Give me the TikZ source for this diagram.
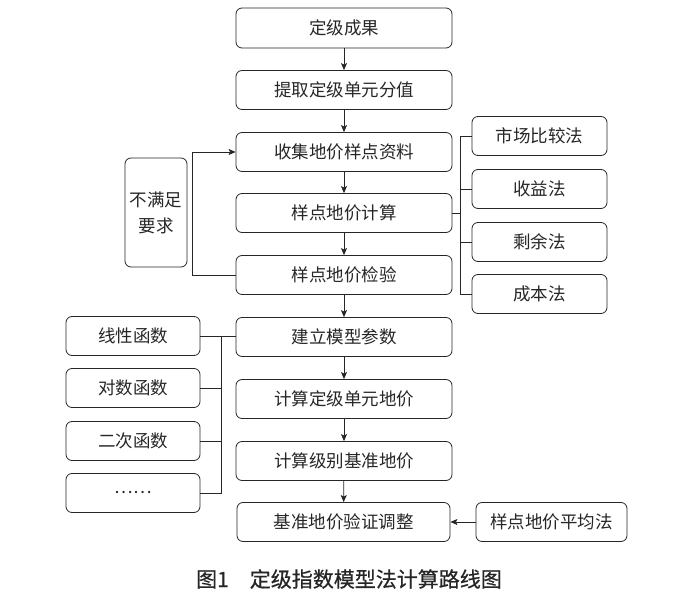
\documentclass[tikz,border=0pt]{standalone}
\usepackage{fontspec}
\setmainfont{Noto Sans CJK SC}
\newfontfamily\capfont[FakeBold=0.6]{Noto Sans CJK SC}
\usetikzlibrary{arrows.meta}
\begin{document}
\begin{tikzpicture}[x=1pt,y=-1pt,
  box/.style={draw=black!85, line width=0.8pt, rounded corners=6pt, minimum height=39pt, inner sep=0pt, font=\fontsize{17.5}{21}\selectfont, text=black!85},
  mainbox/.style={box, minimum width=216pt},
  sidebox/.style={box, minimum width=135pt},
  conn/.style={draw=black!85, line width=0.8pt},
  arr/.style={conn, -{Stealth[length=7pt,width=6pt,inset=1.5pt]}}]
\useasboundingbox (0,0) rectangle (686,599);
\node[mainbox, minimum height=40pt] (a1) at (344,28) {定级成果};
\node[mainbox] (a2) at (344,90) {提取定级单元分值};
\node[mainbox] (a3) at (344,152) {收集地价样点资料};
\node[mainbox] (a4) at (344,213) {样点地价计算};
\node[mainbox] (a5) at (344,275) {样点地价检验};
\node[mainbox] (a6) at (344,337) {建立模型参数};
\node[mainbox] (a7) at (344,399) {计算定级单元地价};
\node[mainbox] (a8) at (344,461) {计算级别基准地价};
\node[box, minimum width=213pt] (a9) at (343.5,522) {基准地价验证调整};
\node[box, minimum width=62pt, minimum height=109pt, align=center, font=\fontsize{17.5}{26}\selectfont] (n) at (156,212.5) {不满足\\要求};
\node[sidebox] (r1) at (539.5,136) {市场比较法};
\node[sidebox] (r2) at (539.5,189) {收益法};
\node[sidebox] (r3) at (539.5,242) {剩余法};
\node[sidebox] (r4) at (539.5,294) {成本法};
\node[sidebox, minimum width=134pt] (l1) at (133,336) {线性函数};
\node[sidebox, minimum width=134pt] (l2) at (133,388) {对数函数};
\node[sidebox, minimum width=134pt] (l3) at (133,441) {二次函数};
\node[sidebox, minimum width=134pt] (l4) at (133,493) {……};
\node[box, minimum width=151pt] (p) at (551.5,522) {样点地价平均法};
\node[font=\capfont\fontsize{21}{25}\selectfont, text=black!85] (cap) at (349,579) {图1\quad 定级指数模型法计算路线图};
\draw[arr] (a1) -- (a2);
\draw[arr] (a2) -- (a3);
\draw[arr] (a3) -- (a4);
\draw[arr] (a4) -- (a5);
\draw[arr] (a5) -- (a6);
\draw[arr] (a6) -- (a7);
\draw[arr] (a7) -- (a8);
\draw[arr] (a8) -- (a9);
\draw[arr] (a5.west) -- ++(-43,0) |- (a3.west);
\draw[conn] (a4.east) -- ++(9,0);
\draw[conn] (r1.west) -- ++(-11,0) |- (r4.west);
\draw[conn] (r2.west) -- ++(-11,0);
\draw[conn] (r3.west) -- ++(-11,0);
\draw[conn] (l1.east) -- (l1.east -| a6.west);
\draw[conn] (l1.east) ++(21,0) |- (l4.east);
\draw[conn] (l2.east) -- ++(21,0);
\draw[conn] (l3.east) -- ++(21,0);
\draw[arr] (p) -- (a9);
\end{tikzpicture}
\end{document}
